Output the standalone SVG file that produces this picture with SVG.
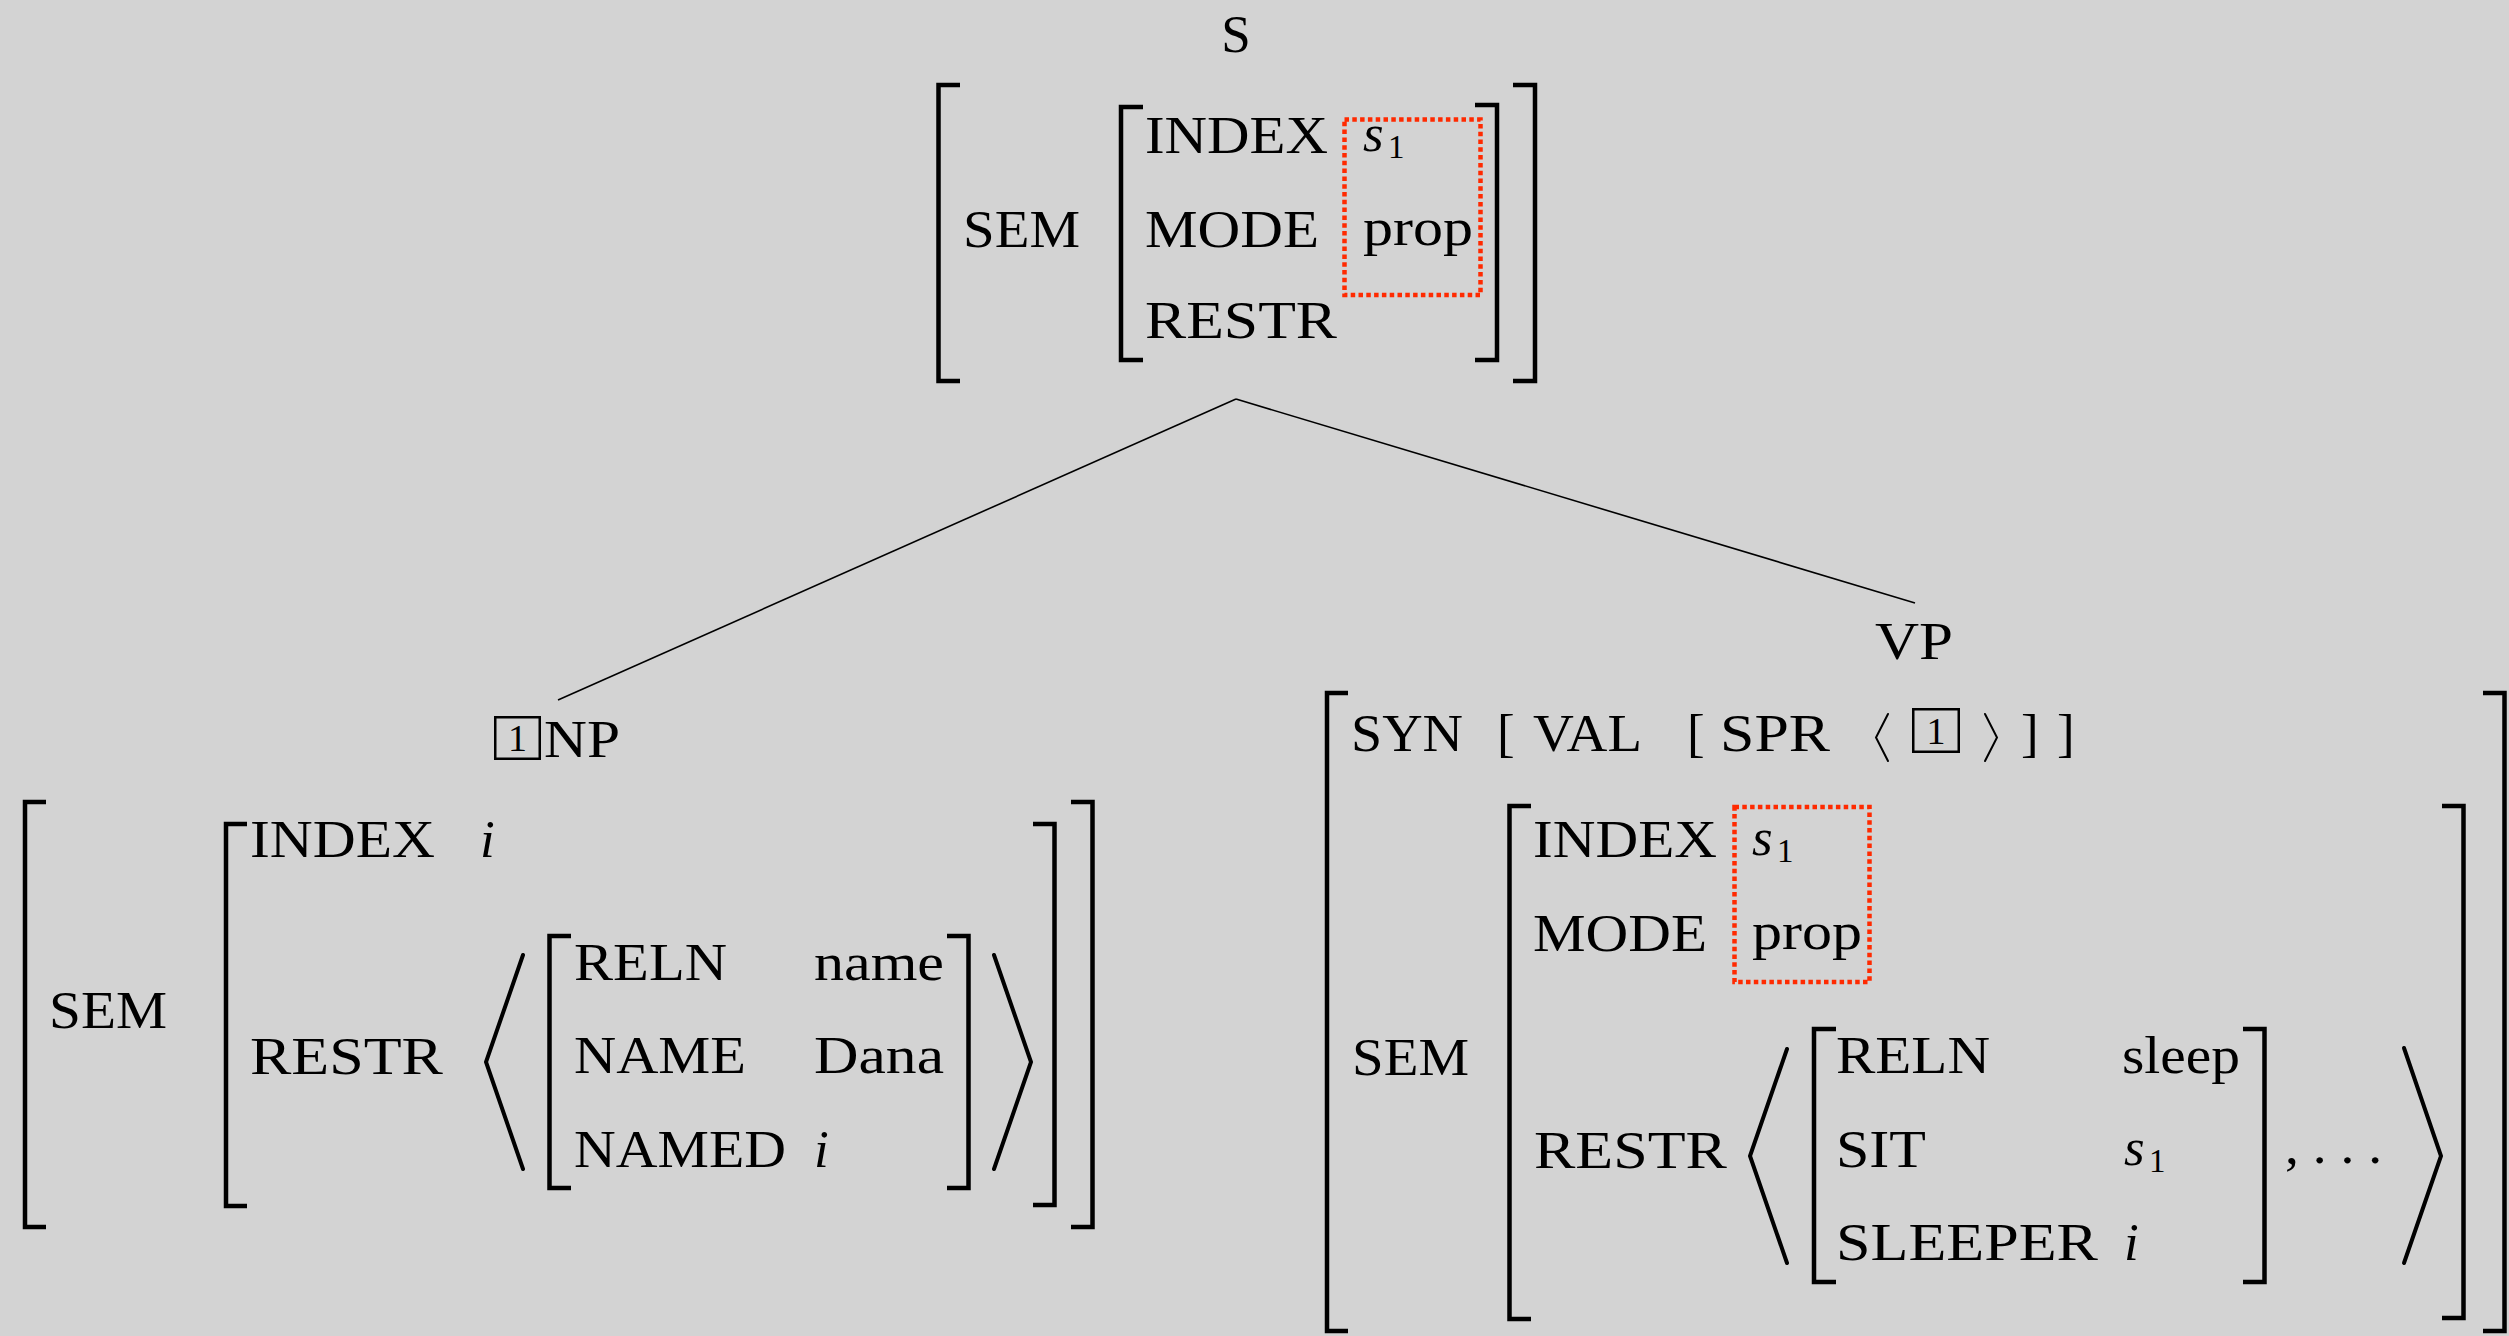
<svg xmlns="http://www.w3.org/2000/svg" width="2509" height="1336" viewBox="0 0 2509 1336">
  <defs>
    <style>
      .t { font-family: "Liberation Serif", "Times New Roman", serif; font-size: 53px; fill: #000; }
      .it { font-family: "Liberation Serif", "Times New Roman", serif; font-style: italic; font-size: 53px; fill: #000; }
      .sub { font-family: "Liberation Serif", "Times New Roman", serif; font-size: 33px; fill: #000; }
      .tag { font-family: "Liberation Serif", "Times New Roman", serif; font-size: 38px; fill: #000; }
      .br { fill: none; stroke: #000; stroke-width: 4.5; stroke-linejoin: miter; stroke-linecap: butt; }
      .ang { fill: none; stroke: #000; stroke-width: 4; stroke-linejoin: miter; stroke-linecap: round; }
      .sang { fill: none; stroke: #000; stroke-width: 2; stroke-linejoin: miter; stroke-linecap: round; }
      .box { fill: none; stroke: #000; stroke-width: 2.5; }
      .hl { fill: none; stroke: #ff2a00; stroke-width: 4.5; stroke-dasharray: 4.5 3.3; }
      .edge { fill: none; stroke: #000; stroke-width: 1.6; }
    </style>
  </defs>

  <rect x="0" y="0" width="2509" height="1336" fill="#d3d3d3"/>

  <!-- tree edges -->
  <g id="connectors">
    <line class="edge" x1="1236" y1="399" x2="558" y2="700"/>
    <line class="edge" x1="1236" y1="399" x2="1915" y2="603"/>
  </g>

  <!-- root: S -->
  <g id="node-s">
    <text class="t" x="1236" y="52" text-anchor="middle">S</text>
    <path class="br" d="M960 85 H938.5 V381 H960"/>
    <path class="br" d="M1513 85 H1535 V381 H1513"/>
    <text class="t" x="963" y="247" textLength="117" lengthAdjust="spacingAndGlyphs">SEM</text>
    <path class="br" d="M1143 107 H1121 V360 H1143"/>
    <path class="br" d="M1475 105 H1497 V360 H1475"/>
    <text class="t" x="1145" y="153" textLength="183" lengthAdjust="spacingAndGlyphs">INDEX</text>
    <text class="t" x="1145" y="247" textLength="174" lengthAdjust="spacingAndGlyphs">MODE</text>
    <text class="t" x="1145" y="338" textLength="192" lengthAdjust="spacingAndGlyphs">RESTR</text>
    <text class="it" x="1363" y="151">s</text>
    <text class="sub" x="1388" y="158">1</text>
    <text class="t" x="1363" y="245" textLength="110" lengthAdjust="spacingAndGlyphs">prop</text>
    <rect class="hl" x="1344.5" y="119.5" width="136" height="175.5"/>
  </g>

  <!-- left daughter: NP -->
  <g id="node-np">
    <rect class="box" x="495.25" y="717.25" width="44.5" height="41.5"/>
    <text class="tag" x="517.5" y="751" text-anchor="middle">1</text>
    <text class="t" x="544" y="757" textLength="76" lengthAdjust="spacingAndGlyphs">NP</text>

    <path class="br" d="M46 802 H25 V1227 H46"/>
    <path class="br" d="M1071 802 H1092.5 V1227 H1071"/>
    <text class="t" x="49" y="1028" textLength="118" lengthAdjust="spacingAndGlyphs">SEM</text>

    <path class="br" d="M247 824 H226 V1206 H247"/>
    <path class="br" d="M1033 824 H1054.5 V1205 H1033"/>
    <text class="t" x="250" y="857" textLength="185" lengthAdjust="spacingAndGlyphs">INDEX</text>
    <text class="it" x="480" y="857">i</text>
    <text class="t" x="250" y="1074" textLength="193" lengthAdjust="spacingAndGlyphs">RESTR</text>

    <polyline class="ang" points="523,955 486,1062 523,1169"/>
    <path class="br" d="M571 936 H549.5 V1188 H571"/>
    <path class="br" d="M947 936 H968.5 V1188 H947"/>
    <text class="t" x="574" y="980" textLength="153" lengthAdjust="spacingAndGlyphs">RELN</text>
    <text class="t" x="574" y="1073" textLength="172" lengthAdjust="spacingAndGlyphs">NAME</text>
    <text class="t" x="574" y="1167" textLength="212" lengthAdjust="spacingAndGlyphs">NAMED</text>
    <text class="t" x="814" y="980" textLength="130" lengthAdjust="spacingAndGlyphs">name</text>
    <text class="t" x="814" y="1073" textLength="130" lengthAdjust="spacingAndGlyphs">Dana</text>
    <text class="it" x="814" y="1167">i</text>
    <polyline class="ang" points="994,955 1031,1062 994,1169"/>
  </g>

  <!-- right daughter: VP -->
  <g id="node-vp">
    <text class="t" x="1875" y="659" textLength="78" lengthAdjust="spacingAndGlyphs">VP</text>

    <path class="br" d="M1348 693 H1327 V1331 H1348"/>
    <path class="br" d="M2483 693 H2504.5 V1331 H2483"/>

    <text class="t" x="1351" y="751" textLength="112" lengthAdjust="spacingAndGlyphs">SYN</text>
    <text class="t" x="1497" y="751">[</text>
    <text class="t" x="1533" y="751" textLength="109" lengthAdjust="spacingAndGlyphs">VAL</text>
    <text class="t" x="1687" y="751">[</text>
    <text class="t" x="1720" y="751" textLength="110" lengthAdjust="spacingAndGlyphs">SPR</text>
    <polyline class="sang" points="1888,714 1876,737.5 1888,761"/>
    <rect class="box" x="1913.25" y="709.25" width="45.5" height="42.5"/>
    <text class="tag" x="1936" y="744" text-anchor="middle">1</text>
    <polyline class="sang" points="1985,714 1997,737.5 1985,761"/>
    <text class="t" x="2021" y="751">]</text>
    <text class="t" x="2057" y="751">]</text>

    <text class="t" x="1352" y="1075" textLength="117" lengthAdjust="spacingAndGlyphs">SEM</text>
    <path class="br" d="M1531 806 H1509.5 V1319 H1531"/>
    <path class="br" d="M2442 806 H2463.5 V1318 H2442"/>
    <text class="t" x="1533" y="857" textLength="184" lengthAdjust="spacingAndGlyphs">INDEX</text>
    <text class="t" x="1533" y="951" textLength="174" lengthAdjust="spacingAndGlyphs">MODE</text>
    <text class="t" x="1534" y="1168" textLength="193" lengthAdjust="spacingAndGlyphs">RESTR</text>
    <text class="it" x="1752" y="855">s</text>
    <text class="sub" x="1777" y="862">1</text>
    <text class="t" x="1752" y="949" textLength="110" lengthAdjust="spacingAndGlyphs">prop</text>
    <rect class="hl" x="1734.5" y="807" width="135" height="175"/>

    <polyline class="ang" points="1787,1049 1750,1156 1787,1263"/>
    <path class="br" d="M1836 1029 H1814 V1282 H1836"/>
    <path class="br" d="M2243 1029 H2264.5 V1282 H2243"/>
    <text class="t" x="1836" y="1073" textLength="154" lengthAdjust="spacingAndGlyphs">RELN</text>
    <text class="t" x="1836" y="1167" textLength="90" lengthAdjust="spacingAndGlyphs">SIT</text>
    <text class="t" x="1836" y="1260" textLength="262" lengthAdjust="spacingAndGlyphs">SLEEPER</text>
    <text class="t" x="2122" y="1073" textLength="118" lengthAdjust="spacingAndGlyphs">sleep</text>
    <text class="it" x="2124" y="1165">s</text>
    <text class="sub" x="2149" y="1172">1</text>
    <text class="it" x="2124" y="1260">i</text>
    <text class="t" x="2285" y="1163" textLength="97" lengthAdjust="spacingAndGlyphs">, . . .</text>
    <polyline class="ang" points="2404,1048 2441,1156 2404,1263"/>
  </g>
</svg>
